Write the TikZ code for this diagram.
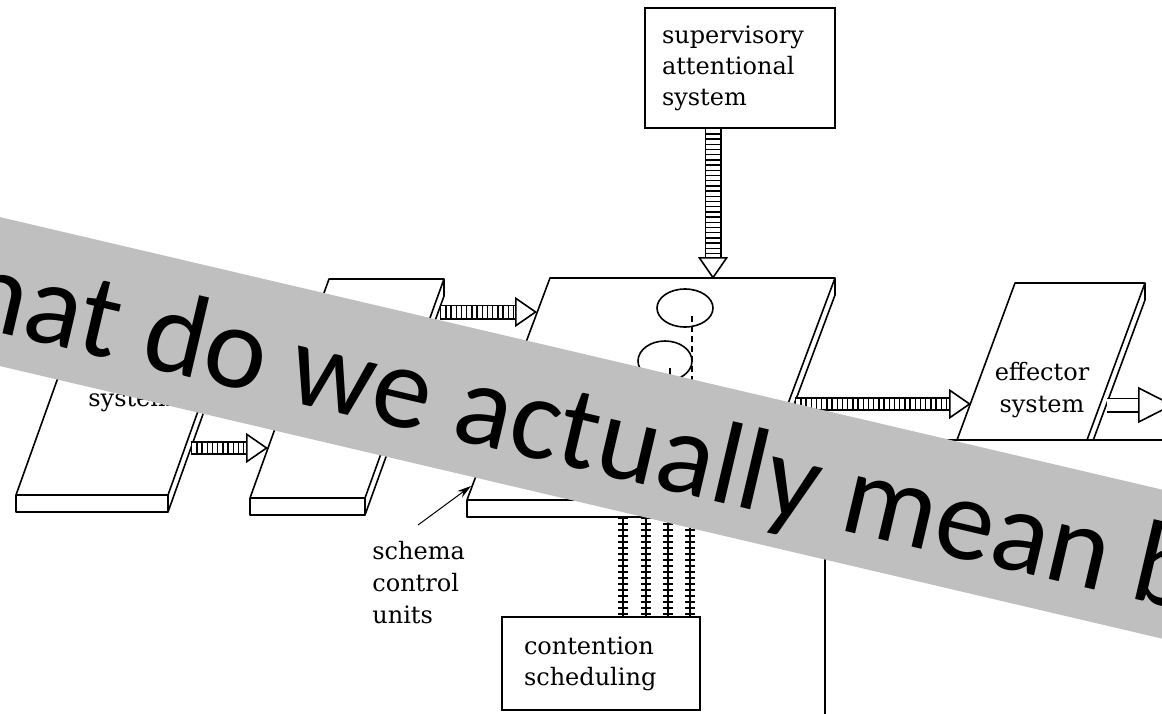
\documentclass[tikz,border=0pt]{standalone}
\usepackage{fontspec}
\setmainfont{DejaVu Serif}
\newfontfamily\slidefont{Carlito}
\usetikzlibrary{arrows.meta,calc}
\definecolor{bannergray}{RGB}{191,191,191}

% striped arrow: #1 shaft width, #2 from, #3 to
\newcommand\ladderarrow[3]{%
  \draw[line width=#1, shorten >=10pt] (#2) -- (#3);
  \draw[line width=#1-1.6pt, white, shorten >=10pt] (#2) -- (#3);
  \draw[line width=#1-1.6pt, dash pattern=on 0.7pt off 1.9pt, shorten >=10pt] (#2) -- (#3);
  \draw[line width=0.8pt, -{Triangle[fill=white, length=11pt, width=15pt]}] ($(#3)!11pt!(#2)$) -- (#3);
}

\begin{document}
\begin{tikzpicture}[x=0.5pt, y=-0.5pt,
    board/.style={line width=0.8pt, line join=round},
    txt/.style={font=\fontsize{12}{16}\selectfont, inner sep=0pt, align=left},
    box/.style={draw, line width=0.8pt, font=\fontsize{12}{15.5}\selectfont, align=left, inner ysep=0pt},
    rail/.style={line width=0.8pt, postaction={draw, line width=5pt, dash pattern=on 0.8pt off 2.2pt}}]

\useasboundingbox (0,0) rectangle (1162,713);
\clip (0,0) rectangle (1162,713);

% boards: name / front left x / front y / back left x / back y / width
\foreach \n/\fx/\fy/\bx/\by/\w in {per/16/495/94/277/152, trig/250/498/329/279/115, scu/467/500/550/278/285, eff/957/440/1015/283/130}
{
  \coordinate (\n-fl) at (\fx,\fy);
  \coordinate (\n-bl) at (\bx,\by);
  \coordinate (\n-br) at (\bx+\w,\by);
  \coordinate (\n-fr) at (\fx+\w,\fy);
  \draw[board] (\n-fl) -- (\n-bl) -- (\n-br) -- (\n-fr) -- cycle;
  \draw[board] (\n-fl) -- ++(0,17) -| (\n-fr);
  \draw[board] (\n-br) -- ++(0,17) -- ($(\n-fr)+(0,17)$);
}

% schema units on the middle board
\draw[board] (685,308) ellipse [x radius=14pt, y radius=9.5pt];
\draw[board] (665,361) ellipse [x radius=13.5pt, y radius=10pt];
\draw[board, dash pattern=on 3pt off 2pt] (692,316) -- (692,470);
\draw[board] (670,368) -- (670,470);

\node[box, text width=78pt, inner xsep=8.5pt, minimum height=60pt] (sas) at (740,68) {supervisory\\attentional\\system};
\node[box, text width=77pt, inner xsep=11pt, minimum height=46.5pt] (cs) at (601,663.5) {contention\\scheduling};

\coordinate (sas-out) at (713,128);
\coordinate (scu-top) at (713,279);
\coordinate (per-out) at (191,448);
\coordinate (trig-in) at (268,448);
\coordinate (trig-out) at (440,312);
\coordinate (scu-in) at (537,312);
\coordinate (scu-out) at (795,404);
\coordinate (eff-in) at (971,404);
\coordinate (eff-out) at (1107,405);
\coordinate (resp) at (1174,405);

\ladderarrow{8.5pt}{sas-out}{scu-top}
\ladderarrow{7pt}{per-out}{trig-in}
\ladderarrow{7.5pt}{trig-out}{scu-in}
\ladderarrow{7pt}{scu-out}{eff-in}

% plain output arrow
\draw[line width=7.5pt, shorten >=16pt] (eff-out) -- (resp);
\draw[line width=5.9pt, white, shorten >=15pt] (eff-out) -- (resp);
\draw[line width=0.8pt, -{Triangle[fill=white, length=18pt, width=18pt]}] ($(resp)!18pt!(eff-out)$) -- (resp);

% contention scheduling lines
\foreach \x in {623,646,668,690}
{
  \coordinate (u\x) at (\x,517);
  \draw[rail] (u\x) -- (u\x |- cs.north);
}

\node[txt, align=center] (efftxt) at (1042,390) {effector\\system};
\node[txt, anchor=west] (scutxt) at (372,583) {schema\\control\\units};
\node[txt, anchor=base west] (pertxt) at (88,406) {system};

\coordinate (scu-lab) at (418,525);
\coordinate (scu-tip) at (471,486);
\draw[line width=0.5pt, -{Stealth[length=7pt, width=4pt]}] (scu-lab) -- (scu-tip);

% frame of the picture below
\fill[white] (825,440) rectangle (1180,720);
\draw[board] (825,720) -- (825,440) -- (1180,440);

% banner
\fill[bannergray] (-40,207.7) -- (1200,498.5) -- (1200,647.5) -- (-40,356.7) -- cycle;
\node[font=\slidefont\fontsize{59}{60}\selectfont, anchor=base west, rotate=-13.2, inner sep=0pt] (slogan) at (-41,323.7) {hat do we actually mean b};

\end{tikzpicture}
\end{document}
